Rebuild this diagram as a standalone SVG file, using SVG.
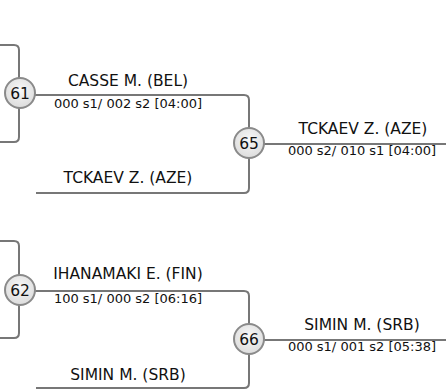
<svg xmlns="http://www.w3.org/2000/svg" width="446" height="392" viewBox="0 0 446 392">
<defs>
<radialGradient id="g" cx="50%" cy="40%" r="60%">
<stop offset="0" stop-color="#f8f8f8"/>
<stop offset="1" stop-color="#dcdcdc"/>
</radialGradient>
</defs>
<style>
.ln{fill:none;stroke:#777;stroke-width:2}
.nd circle{fill:url(#g);stroke:#8a8a8a;stroke-width:2}
.nd text{font-family:"DejaVu Sans",sans-serif;font-size:15.5px;text-anchor:middle;fill:#111}
.nm{font-family:"DejaVu Sans",sans-serif;font-size:15.5px;text-anchor:middle;fill:#111}
.sc{font-family:"DejaVu Sans",sans-serif;font-size:13px;text-anchor:middle;fill:#111}
</style>
<rect width="446" height="392" fill="#fff"/>
<g id="connectors">
<path class="ln" d="M0,45 H14 Q19,45 19,50 V137 Q19,142 14,142 H0"/>
<path class="ln" d="M34,95 H244 Q249,95 249,100 V188 Q249,193 244,193 H36"/>
<path class="ln" d="M263,144 H446"/>
<path class="ln" d="M0,241 H14 Q19,241 19,246 V333 Q19,338 14,338 H0"/>
<path class="ln" d="M34,291 H244 Q249,291 249,296 V383 Q249,388 244,388 H36"/>
<path class="ln" d="M263,340 H446"/>
</g>
<g id="labels">
<text class="nm" x="128" y="86">CASSE M. (BEL)</text>
<text class="sc" x="128" y="108">000 s1/ 002 s2 [04:00]</text>
<text class="nm" x="128" y="183">TCKAEV Z. (AZE)</text>
<text class="nm" x="363" y="134">TCKAEV Z. (AZE)</text>
<text class="sc" x="362" y="155">000 s2/ 010 s1 [04:00]</text>
<text class="nm" x="128" y="279">IHANAMAKI E. (FIN)</text>
<text class="sc" x="128" y="303">100 s1/ 000 s2 [06:16]</text>
<text class="nm" x="128" y="380">SIMIN M. (SRB)</text>
<text class="nm" x="362" y="330">SIMIN M. (SRB)</text>
<text class="sc" x="362" y="351">000 s1/ 001 s2 [05:38]</text>
</g>
<g id="n61" class="nd"><circle cx="20" cy="93" r="15"/><text x="20" y="98.5">61</text></g>
<g id="n65" class="nd"><circle cx="249" cy="143" r="15"/><text x="249" y="148.5">65</text></g>
<g id="n62" class="nd"><circle cx="20" cy="290" r="15"/><text x="20" y="295.5">62</text></g>
<g id="n66" class="nd"><circle cx="249" cy="339" r="15"/><text x="249" y="344.5">66</text></g>
</svg>
